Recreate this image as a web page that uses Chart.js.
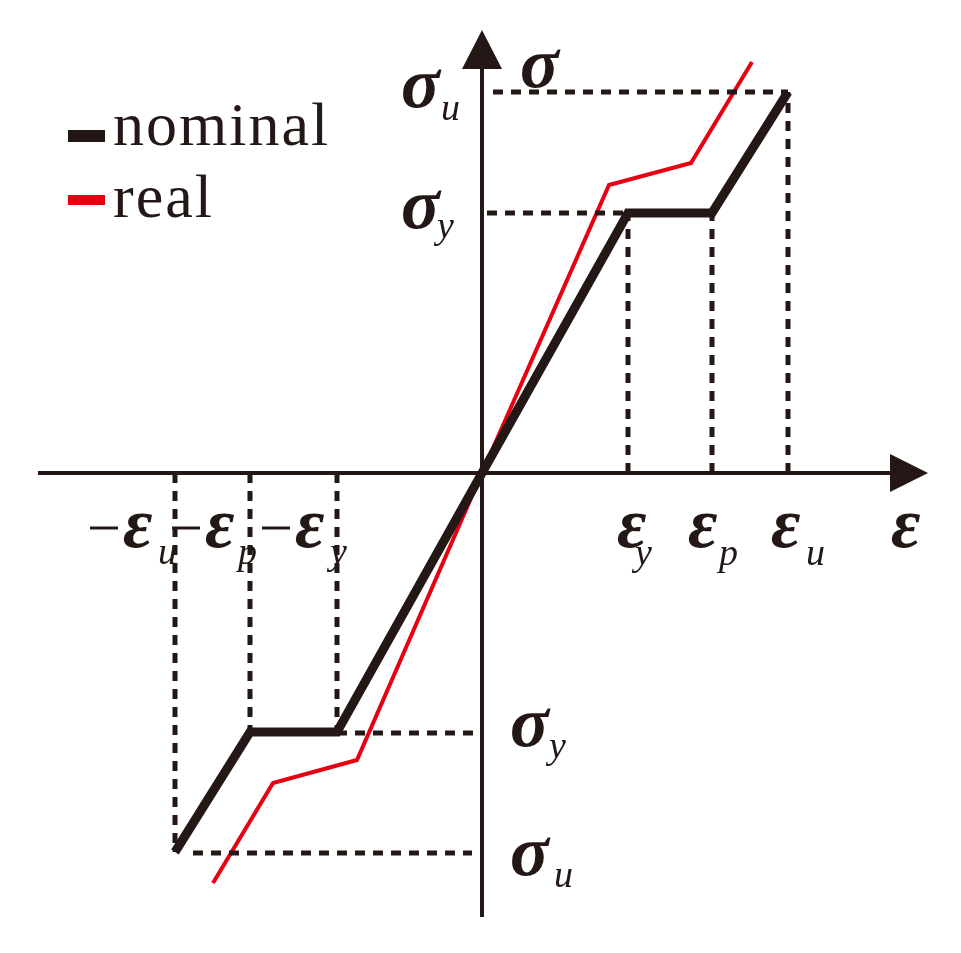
<!DOCTYPE html>
<html>
<head>
<meta charset="utf-8">
<script src="https://cdn.jsdelivr.net/npm/chart.js@4/dist/chart.umd.min.js"></script>
<style>
  html, body { margin: 0; padding: 0; background: #fff; }
  #wrap { width: 961px; height: 953px; }
</style>
</head>
<body>
<div id="wrap"><canvas id="grafico"></canvas></div>
<script>
// ===============================
// DADOS (unidades do esquema, origem no cruzamento dos eixos)
// ===============================
const nominalX = [-307, -232, -145, 0, 146, 230, 306];
const nominalY = [-379, -259, -259, 0, 260, 260, 381];

const realX = [-269, -209, -125, 0, 127, 209, 270];
const realY = [-410, -310, -287, 0, 288, 310, 411];

// marcas dos eixos
const epsTicks = [146, 230, 306];          // εy, εp, εu
const epsNegTicks = [-145, -232, -307];    // -εy, -εp, -εu
const sigTicks = [260, 381];               // σy, σu
const sigNegTicks = [-260, -380];          // -σy, -σu

const legendLabels = ["nominal", "real"];

const PRETO = "#231815";
const VERMELHO = "#e60012";

function pontos(xs, ys) {
    return xs.map((x, i) => ({ x: x, y: ys[i] }));
}

function guia(x1, y1, x2, y2) {
    return {
        data: [{ x: x1, y: y1 }, { x: x2, y: y2 }],
        showLine: true,
        borderColor: PRETO,
        borderWidth: 5,
        borderDash: [10, 8],
        borderCapStyle: "butt",
        pointRadius: 0
    };
}

// linhas tracejadas de referência
const guias = [
    guia(11, sigTicks[1], epsTicks[2], sigTicks[1]),
    guia(5, sigTicks[0], epsTicks[0], sigTicks[0]),
    guia(epsTicks[0], 0, epsTicks[0], sigTicks[0]),
    guia(epsTicks[1], 0, epsTicks[1], sigTicks[0]),
    guia(epsTicks[2], 0, epsTicks[2], sigTicks[1]),
    guia(epsNegTicks[0], sigNegTicks[0], -4, sigNegTicks[0]),
    guia(-289, sigNegTicks[1], -10, sigNegTicks[1]),
    guia(epsNegTicks[0], 0, epsNegTicks[0], nominalY[2]),
    guia(epsNegTicks[1], 0, epsNegTicks[1], nominalY[1]),
    guia(epsNegTicks[2], 0, epsNegTicks[2], nominalY[0])
];

// ===============================
// PLUGINS
// ===============================
const eixos = {
    id: "eixos",
    beforeDatasetsDraw(chart) {
        const ctx = chart.ctx;
        const sx = chart.scales.x, sy = chart.scales.y;
        const ox = sx.getPixelForValue(0), oy = sy.getPixelForValue(0);
        const xl = sx.getPixelForValue(-444), xb = sx.getPixelForValue(408), xt = sx.getPixelForValue(446);
        const yb = sy.getPixelForValue(-444), yba = sy.getPixelForValue(404), yt = sy.getPixelForValue(443);
        ctx.save();
        ctx.strokeStyle = PRETO;
        ctx.fillStyle = PRETO;
        ctx.lineWidth = 4;
        ctx.beginPath();
        ctx.moveTo(xl, oy); ctx.lineTo(xb, oy);
        ctx.moveTo(ox, yb); ctx.lineTo(ox, yba);
        ctx.stroke();
        ctx.beginPath();
        ctx.moveTo(xt, oy); ctx.lineTo(xb, oy - 19); ctx.lineTo(xb, oy + 19); ctx.closePath();
        ctx.fill();
        ctx.beginPath();
        ctx.moveTo(ox, yt); ctx.lineTo(ox - 20, yba); ctx.lineTo(ox + 20, yba); ctx.closePath();
        ctx.fill();
        ctx.restore();
    }
};

function simbolo(ctx, principal, sub, x, base, subDx, subBase) {
    ctx.font = "italic bold 72px 'Liberation Serif'";
    ctx.fillText(principal, x, base);
    if (sub) {
        ctx.font = "italic 38px 'Liberation Serif'";
        ctx.fillText(sub, x + subDx, subBase);
    }
}

function menos(ctx, x, y) {
    ctx.fillRect(x, y - 1.5, 28, 3);
}

const rotulos = {
    id: "rotulos",
    afterDatasetsDraw(chart) {
        const ctx = chart.ctx;
        const sx = chart.scales.x, sy = chart.scales.y;
        const ox = sx.getPixelForValue(0);
        const oy = sy.getPixelForValue(0);
        ctx.save();
        ctx.fillStyle = PRETO;
        ctx.textAlign = "left";
        ctx.textBaseline = "alphabetic";

        // eixo y
        const su = sy.getPixelForValue(sigTicks[1]);
        const sgy = sy.getPixelForValue(sigTicks[0]);
        simbolo(ctx, "σ", "u", ox - 81, su + 15, 40, su + 28);
        simbolo(ctx, "σ", "y", ox - 81, sgy + 15, 36, sgy + 25);
        simbolo(ctx, "σ", null, ox + 38, sy.getPixelForValue(443) + 57);
        const nsy = sy.getPixelForValue(sigNegTicks[0]);
        const nsu = sy.getPixelForValue(sigNegTicks[1]);
        simbolo(ctx, "σ", "y", ox + 28, nsy + 13, 39, nsy + 25);
        simbolo(ctx, "σ", "u", ox + 28, nsu + 22, 44, nsu + 34);

        // eixo x
        const base = oy + 74;
        const subs = ["y", "p", "u"];
        epsTicks.forEach((v, i) => {
            const px = sx.getPixelForValue(v);
            const dx = [-11, -24, -17][i];
            simbolo(ctx, "ε", subs[i], px + dx, base, [18, 31, 35][i], base + 18);
        });
        simbolo(ctx, "ε", null, sx.getPixelForValue(409), base);

        epsNegTicks.forEach((v, i) => {
            const px = sx.getPixelForValue(v);
            const dx = [-42, -45, -52][i];
            menos(ctx, px + dx - 33, oy + 55);
            simbolo(ctx, "ε", subs[i], px + dx, base, [35, 33, 35][i], base + 17);
        });

        // legenda
        ctx.fillStyle = PRETO;
        ctx.fillRect(68, 130, 37, 12);
        ctx.fillStyle = VERMELHO;
        ctx.fillRect(68, 195, 37, 10);
        ctx.fillStyle = PRETO;
        ctx.font = "62px 'Liberation Serif'";
        ctx.letterSpacing = "2px";
        ctx.fillText(legendLabels[0], 113, 145);
        ctx.fillText(legendLabels[1], 113, 217);
        ctx.restore();
    }
};

// ===============================
// GRÁFICO
// ===============================
new Chart(document.getElementById("grafico"), {
    type: "scatter",
    data: {
        datasets: [
            ...guias,
            {
                label: legendLabels[0],
                data: pontos(nominalX, nominalY),
                showLine: true,
                borderColor: PRETO,
                borderWidth: 9,
                borderJoinStyle: "miter",
                pointRadius: 0
            },
            {
                label: legendLabels[1],
                data: pontos(realX, realY),
                showLine: true,
                borderColor: VERMELHO,
                borderWidth: 4,
                borderJoinStyle: "miter",
                pointRadius: 0
            }
        ]
    },
    options: {
        responsive: true,
        maintainAspectRatio: false,
        animation: false,
        layout: { padding: 0 },
        plugins: { legend: { display: false }, tooltip: { enabled: false } },
        scales: {
            x: { type: "linear", display: false, min: -482, max: 479 },
            y: { type: "linear", display: false, min: -480, max: 473 }
        }
    },
    plugins: [eixos, rotulos]
});
</script>
</body>
</html>
